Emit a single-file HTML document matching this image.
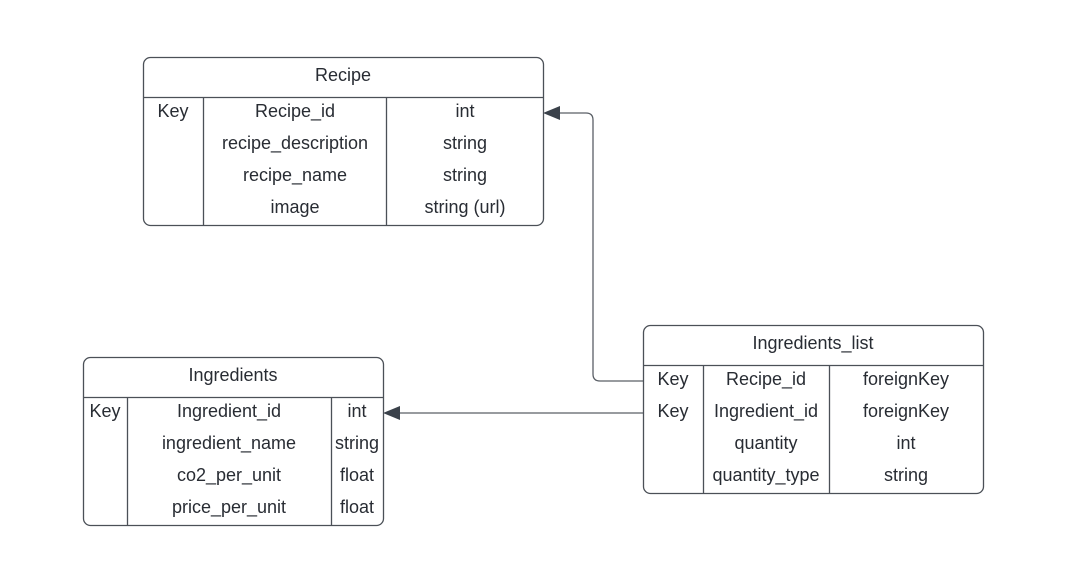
<!DOCTYPE html>
<html><head><style>body{margin:0;background:#fff}svg{display:block}text{font-family:"Liberation Sans",sans-serif;font-size:18px;fill:#282c33}</style></head>
<body>
<svg width="1078" height="568" viewBox="0 0 1078 568">
<g fill="none" stroke="#5a5f66" stroke-width="1.3">
<path d="M643 381 H600 Q593 381 593 374 V120 Q593 113 586 113 H560"/>
<path d="M643 413 H400"/>
</g>
<polygon points="543,113 560,106 560,120" fill="#3a414a"/>
<polygon points="383,413 400,406 400,420" fill="#3a414a"/>
<g fill="#fff" stroke="#4b5057" stroke-width="1.3">
<rect x="143.5" y="57.5" width="400" height="168" rx="7"/>
<path d="M143.5 97.5H543.5M203.5 97.5V225.5M386.5 97.5V225.5"/>
<rect x="83.5" y="357.5" width="300" height="168" rx="7"/>
<path d="M83.5 397.5H383.5M127.5 397.5V525.5M331.5 397.5V525.5"/>
<rect x="643.5" y="325.5" width="340" height="168" rx="7"/>
<path d="M643.5 365.5H983.5M703.5 365.5V493.5M829.5 365.5V493.5"/>
</g>
<g text-anchor="middle">
<text x="343" y="81">Recipe</text>
<text x="173" y="117">Key</text>
<text x="295" y="117">Recipe_id</text><text x="465" y="117">int</text>
<text x="295" y="149">recipe_description</text><text x="465" y="149">string</text>
<text x="295" y="181">recipe_name</text><text x="465" y="181">string</text>
<text x="295" y="213">image</text><text x="465" y="213">string (url)</text>

<text x="233" y="381">Ingredients</text>
<text x="105" y="417">Key</text>
<text x="229" y="417">Ingredient_id</text><text x="357" y="417">int</text>
<text x="229" y="449">ingredient_name</text><text x="357" y="449">string</text>
<text x="229" y="481">co2_per_unit</text><text x="357" y="481">float</text>
<text x="229" y="513">price_per_unit</text><text x="357" y="513">float</text>

<text x="813" y="349">Ingredients_list</text>
<text x="673" y="385">Key</text>
<text x="766" y="385">Recipe_id</text><text x="906" y="385">foreignKey</text>
<text x="673" y="417">Key</text>
<text x="766" y="417">Ingredient_id</text><text x="906" y="417">foreignKey</text>
<text x="766" y="449">quantity</text><text x="906" y="449">int</text>
<text x="766" y="481">quantity_type</text><text x="906" y="481">string</text>
</g>
</svg>
</body></html>
